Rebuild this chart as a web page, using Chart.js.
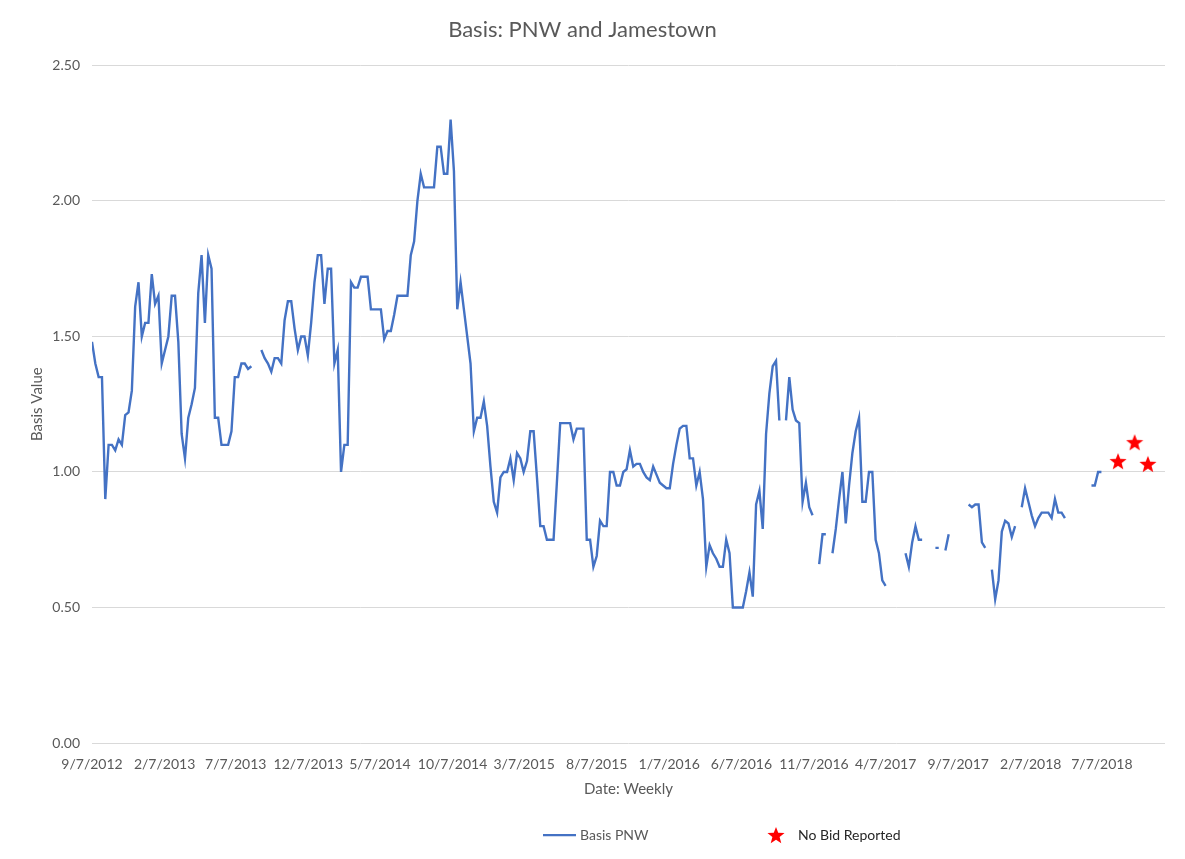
<!DOCTYPE html>
<html>
<head>
<meta charset="utf-8">
<title>Basis: PNW and Jamestown</title>
<script src="https://cdn.jsdelivr.net/npm/chart.js@4.4.1/dist/chart.umd.min.js"></script>
<style>
  html, body { margin: 0; padding: 0; background: #ffffff; }
  #wrap { width: 1185px; height: 859px; }
</style>
</head>
<body>
<div id="wrap"><canvas id="basisChart" width="1185" height="859"></canvas></div>
<script>
// weekly series, first reading on this date, one value per week (null = no report)
const startDate = '9/7/2012';

const basisPNW = [
  1.48, 1.40, 1.35, 1.35, 0.90, 1.10, 1.10, 1.08, 1.12, 1.10,
  1.21, 1.22, 1.30, 1.61, 1.70, 1.50, 1.55, 1.55, 1.73, 1.62,
  1.65, 1.40, 1.45, 1.50, 1.65, 1.65, 1.48, 1.14, 1.05, 1.20,
  1.25, 1.31, 1.66, 1.80, 1.55, 1.80, 1.75, 1.20, 1.20, 1.10,
  1.10, 1.10, 1.15, 1.35, 1.35, 1.40, 1.40, 1.38, 1.39, null,
  null, 1.45, 1.42, 1.40, 1.37, 1.42, 1.42, 1.40, 1.56, 1.63,
  1.63, 1.53, 1.45, 1.50, 1.50, 1.43, 1.55, 1.70, 1.80, 1.80,
  1.62, 1.75, 1.75, 1.40, 1.45, 1.00, 1.10, 1.10, 1.70, 1.68,
  1.68, 1.72, 1.72, 1.72, 1.60, 1.60, 1.60, 1.60, 1.49, 1.52,
  1.52, 1.58, 1.65, 1.65, 1.65, 1.65, 1.80, 1.85, 2.00, 2.10,
  2.05, 2.05, 2.05, 2.05, 2.20, 2.20, 2.10, 2.10, 2.30, 2.11,
  1.60, 1.70, 1.60, 1.50, 1.40, 1.15, 1.20, 1.20, 1.26, 1.17,
  1.02, 0.89, 0.85, 0.98, 1.00, 1.00, 1.05, 0.97, 1.07, 1.05,
  1.00, 1.04, 1.15, 1.15, 0.98, 0.80, 0.80, 0.75, 0.75, 0.75,
  0.96, 1.18, 1.18, 1.18, 1.18, 1.12, 1.16, 1.16, 1.16, 0.75,
  0.75, 0.65, 0.69, 0.82, 0.80, 0.80, 1.00, 1.00, 0.95, 0.95,
  1.00, 1.01, 1.08, 1.02, 1.03, 1.03, 1.00, 0.98, 0.97, 1.02,
  0.99, 0.96, 0.95, 0.94, 0.94, 1.03, 1.10, 1.16, 1.17, 1.17,
  1.05, 1.05, 0.95, 1.00, 0.90, 0.65, 0.73, 0.70, 0.68, 0.65,
  0.65, 0.75, 0.70, 0.50, 0.50, 0.50, 0.50, 0.56, 0.63, 0.54,
  0.88, 0.93, 0.79, 1.14, 1.29, 1.39, 1.41, 1.19, null, 1.19,
  1.35, 1.23, 1.19, 1.18, 0.89, 0.96, 0.87, 0.84, null, 0.66,
  0.77, 0.77, null, 0.70, 0.79, 0.90, 1.00, 0.81, 0.95, 1.07,
  1.15, 1.20, 0.89, 0.89, 1.00, 1.00, 0.75, 0.70, 0.60, 0.58,
  null, null, null, null, null, 0.70, 0.65, 0.74, 0.80, 0.75,
  0.75, null, null, null, 0.72, 0.72, null, 0.71, 0.77, null,
  null, null, null, null, 0.88, 0.87, 0.88, 0.88, 0.74, 0.72,
  null, 0.64, 0.53, 0.60, 0.78, 0.82, 0.81, 0.76, 0.80, null,
  0.87, 0.94, 0.89, 0.84, 0.80, 0.83, 0.85, 0.85, 0.85, 0.83,
  0.90, 0.85, 0.85, 0.83, null, null, null, null, null, null,
  null, 0.95, 0.95, 1.00, 1.00
];

// weeks where no bid was reported
const noBidDates = ['8/10/2018', '9/14/2018', '10/12/2018'];
const noBidValues = [1.04, 1.11, 1.03];

const dateTicks = [
  '9/7/2012', '2/7/2013', '7/7/2013', '12/7/2013', '5/7/2014',
  '10/7/2014', '3/7/2015', '8/7/2015', '1/7/2016', '6/7/2016',
  '11/7/2016', '4/7/2017', '9/7/2017', '2/7/2018', '7/7/2018'
];
const valueTicks = [0, 0.5, 1, 1.5, 2, 2.5];
const axisEndDate = '11/17/2018';

const BLUE = '#4472C4';
const RED = '#FF0000';
const FONT = "Lato, 'Open Sans', sans-serif";

function dayNumber(str) {
  const [m, d, y] = str.split('/').map(Number);
  return Date.UTC(y, m - 1, d) / 86400000;
}
const day0 = dayNumber(startDate);
const daysFrom = (str) => dayNumber(str) - day0;

// filled five point star used for the "no bid" marks
function makeStar(size, color) {
  const c = document.createElement('canvas');
  c.width = size;
  c.height = size;
  const g = c.getContext('2d');
  const cx = size / 2, cy = size / 2 + size * 0.05;
  const R = size / 2, r = R * 0.42;
  g.beginPath();
  for (let k = 0; k < 10; k++) {
    const rad = k % 2 ? r : R;
    const a = -Math.PI / 2 + k * Math.PI / 5;
    g.lineTo(cx + rad * Math.cos(a), cy + rad * Math.sin(a));
  }
  g.closePath();
  g.fillStyle = color;
  g.fill();
  return c;
}
const starImg = makeStar(18, RED);

// legend row under the axis title
const bottomLegend = {
  id: 'bottomLegend',
  afterDraw(chart) {
    const ctx = chart.ctx;
    const y = 835;
    ctx.save();
    ctx.font = '14px ' + FONT;
    ctx.textBaseline = 'middle';

    ctx.strokeStyle = chart.data.datasets[0].borderColor;
    ctx.lineWidth = 2.25;
    ctx.beginPath();
    ctx.moveTo(543, y);
    ctx.lineTo(576, y);
    ctx.stroke();
    ctx.fillStyle = '#595959';
    ctx.fillText(chart.data.datasets[0].label, 580, y);

    ctx.drawImage(starImg, 776 - 9, y - 9);
    ctx.fillStyle = '#262626';
    ctx.fillText(chart.data.datasets[1].label, 798, y);
    ctx.restore();
  }
};

new Chart(document.getElementById('basisChart'), {
  type: 'line',
  data: {
    datasets: [
      {
        label: 'Basis PNW',
        data: basisPNW.map((v, i) => ({ x: i * 7, y: v })),
        borderColor: BLUE,
        backgroundColor: BLUE,
        borderWidth: 2.4,
        pointRadius: 0,
        tension: 0,
        spanGaps: false,
      },
      {
        label: 'No Bid Reported',
        data: noBidDates.map((d, i) => ({ x: daysFrom(d), y: noBidValues[i] })),
        showLine: false,
        pointStyle: starImg,
        pointRadius: 9,
        borderColor: RED,
        backgroundColor: RED,
      },
    ],
  },
  options: {
    responsive: false,
    animation: false,
    layout: { padding: { top: 0, right: 20, bottom: 50, left: 0 } },
    plugins: {
      legend: { display: false },
      tooltip: { enabled: false },
      title: {
        display: true,
        text: 'Basis: PNW and Jamestown',
        color: '#595959',
        font: { family: FONT, size: 22, weight: 'normal' },
        padding: { top: 17, bottom: 22 },
      },
    },
    scales: {
      x: {
        type: 'linear',
        min: 0,
        max: daysFrom(axisEndDate),
        afterBuildTicks: (scale) => {
          scale.ticks = dateTicks.map((t) => ({ value: daysFrom(t) }));
        },
        afterFit: (scale) => {
          scale.height = 66;
        },
        ticks: {
          autoSkip: false,
          maxRotation: 0,
          padding: 13,
          color: '#595959',
          font: { family: FONT, size: 14 },
          callback: (value, index) => dateTicks[index],
        },
        grid: { display: false, drawTicks: false },
        border: { display: false },
        title: {
          display: true,
          text: 'Date: Weekly',
          color: '#595959',
          font: { family: FONT, size: 15 },
          padding: { top: 0, bottom: 11 },
        },
      },
      y: {
        min: 0,
        max: 2.5,
        afterBuildTicks: (scale) => {
          scale.ticks = valueTicks.map((v) => ({ value: v }));
        },
        afterFit: (scale) => {
          scale.width = 92;
        },
        ticks: {
          padding: 12,
          color: '#595959',
          font: { family: FONT, size: 14 },
          callback: (value) => value.toFixed(2),
        },
        grid: { color: '#d9d9d9', lineWidth: 1, drawTicks: false },
        border: { display: false },
        title: {
          display: true,
          text: 'Basis Value',
          color: '#595959',
          font: { family: FONT, size: 15 },
          padding: { top: 28, bottom: 0 },
        },
      },
    },
  },
  plugins: [bottomLegend],
});
</script>
</body>
</html>
